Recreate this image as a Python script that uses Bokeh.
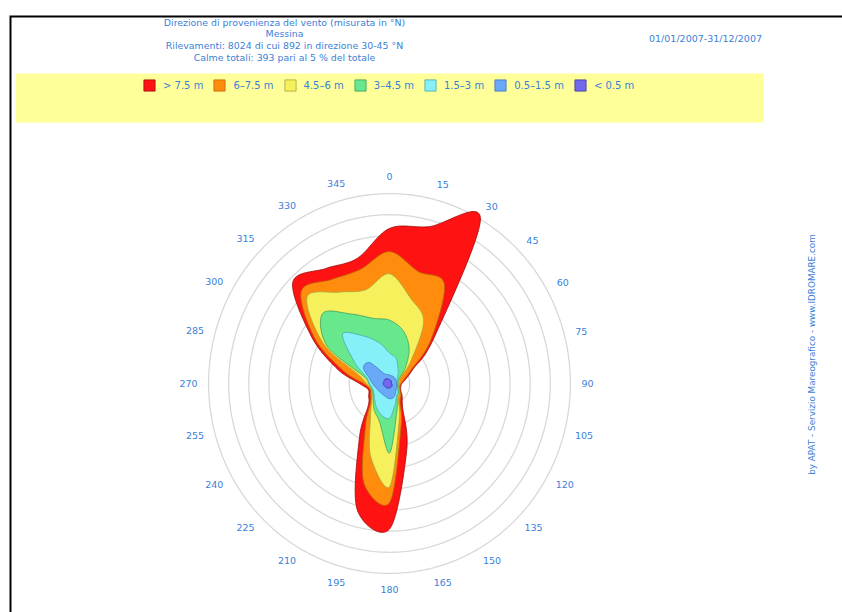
import numpy as np
from bokeh.plotting import figure
from bokeh.models import Range1d, Legend, LegendItem
from bokeh.core.properties import value
from bokeh.embed import file_html
from bokeh.resources import INLINE

# ---------------------------------------------------------------- data
DIRECTIONS = list(range(0, 360, 15))          # degrees from North, clockwise
TICK_LABELS = [str(d) for d in DIRECTIONS]

CLASSES = ["> 7.5 m", "6–7.5 m", "4.5–6 m", "3–4.5 m", "1.5–3 m", "0.5–1.5 m", "< 0.5 m"]

# cumulative radial extent per direction, in grid-ring units (outermost class first)
over_7_5 = [7.35, 7.70, 9.05, 3.20, 1.35, 0.85, 0.62, 0.58, 0.65, 0.90, 1.30, 3.30,
            6.90, 6.20, 3.00, 1.50, 1.20, 1.10, 1.50, 2.70, 4.50, 6.80, 6.30, 6.15]
upto_7_5 = [6.25, 5.50, 5.45, 2.90, 1.20, 0.75, 0.58, 0.53, 0.60, 0.80, 1.05, 2.20,
            5.65, 4.90, 2.40, 1.35, 1.08, 1.00, 1.30, 2.40, 4.30, 6.20, 5.70, 5.60]
upto_6_0 = [5.20, 4.15, 3.40, 1.50, 0.65, 0.52, 0.48, 0.48, 0.55, 0.70, 0.85, 1.85,
            4.90, 3.60, 1.90, 1.25, 1.00, 0.95, 1.15, 1.60, 3.80, 5.80, 5.00, 4.60]
upto_4_5 = [3.00, 2.60, 1.95, 1.15, 0.60, 0.46, 0.43, 0.45, 0.50, 0.65, 0.75, 1.40,
            3.30, 1.90, 1.50, 1.15, 0.95, 0.92, 1.05, 1.35, 3.60, 4.70, 3.80, 3.20]
upto_3_0 = [1.45, 1.25, 0.85, 0.60, 0.45, 0.40, 0.38, 0.40, 0.45, 0.60, 0.70, 1.05,
            1.65, 1.55, 1.30, 1.05, 0.90, 0.88, 1.00, 1.20, 2.00, 3.30, 2.60, 2.00]
upto_1_5 = [0.40, 0.38, 0.38, 0.37, 0.36, 0.36, 0.36, 0.38, 0.40, 0.45, 0.58, 0.70,
            0.72, 0.66, 0.62, 0.62, 0.65, 0.72, 0.85, 1.05, 1.50, 1.40, 0.55, 0.45]
upto_0_5 = [0.19, 0.17, 0.15, 0.13, 0.11, 0.10, 0.10, 0.12, 0.15, 0.17, 0.19, 0.20,
            0.20, 0.22, 0.24, 0.25, 0.27, 0.30, 0.31, 0.30, 0.30, 0.30, 0.25, 0.22]

SERIES = [over_7_5, upto_7_5, upto_6_0, upto_4_5, upto_3_0, upto_1_5, upto_0_5]

TITLE_LINES = [
    "Direzione di provenienza del vento (misurata in °N)",
    "Messina",
    "Rilevamenti: 8024 di cui 892 in direzione 30-45 °N",
    "Calme totali: 393 pari al 5 % del totale",
]
PERIOD = "01/01/2007-31/12/2007"
CREDIT = "by APAT - Servizio Mareografico - www.IDROMARE.com"
N_RINGS = 9

# ---------------------------------------------------------------- styles
FILL = ["#ff1212", "#ff8c0c", "#f5f05c", "#68e88c", "#86f0f8", "#6aa8f8", "#7468ee"]
EDGE = ["#a00c0c", "#b86808", "#a8a43c", "#3e9c5e", "#4aa4b0", "#3f72c0", "#40389c"]
BLUE = "#3a7fd8"
FONT = value("DejaVu Sans")

W, H = 842, 612
CX, CY = 389, 383          # page position of the rose centre
SX, SY = 20.1, 21.1        # page pixels per grid ring (x, y)


def X(px):
    return (px - CX) / SX


def Y(py):
    return (CY - py) / SY


def smooth_closed(radii, samples=20):
    """Closed Catmull-Rom curve through the polar points."""
    th = np.deg2rad(DIRECTIONS)
    r = np.asarray(radii, dtype=float)
    pts = np.column_stack([r * np.sin(th), r * np.cos(th)])
    n = len(pts)
    t = np.linspace(0, 1, samples, endpoint=False)[:, None]
    out = []
    for i in range(n):
        p0, p1, p2, p3 = pts[i - 1], pts[i], pts[(i + 1) % n], pts[(i + 2) % n]
        seg = 0.5 * (2 * p1 + (-p0 + p2) * t
                     + (2 * p0 - 5 * p1 + 4 * p2 - p3) * t ** 2
                     + (-p0 + 3 * p1 - 3 * p2 + p3) * t ** 3)
        out.append(seg)
    curve = np.vstack(out)
    return curve[:, 0], curve[:, 1]


p = figure(width=W, height=H,
           x_range=Range1d(X(0), X(W)), y_range=Range1d(Y(H), Y(0)),
           x_axis_type=None, y_axis_type=None,
           output_backend="svg", toolbar_location=None,
           min_border=0, outline_line_color=None,
           background_fill_color="white", border_fill_color="white")
p.grid.visible = False

# frame lines
p.line([X(10), X(10), X(W)], [Y(H), Y(16), Y(16)],
       line_color="black", line_width=2, line_join="miter")

# legend band
p.quad(left=X(15), right=X(763), top=Y(73), bottom=Y(122),
       fill_color="#ffff99", line_color=None)

# concentric grid rings
ang = np.linspace(0, 2 * np.pi, 361)
for k in range(1, N_RINGS + 1):
    p.line(k * np.sin(ang), k * np.cos(ang), line_color="#d8d8d8", line_width=1.3)

# stacked rose, outermost class first
renderers = []
for radii, fc, ec in zip(SERIES, FILL, EDGE):
    xs, ys = smooth_closed(radii)
    r = p.patch(xs, ys, fill_color=fc, line_color=ec, line_width=0.8)
    renderers.append(r)

# direction labels on an ellipse whose width grows with the label length
th = np.deg2rad(DIRECTIONS)
a = 192.0 + 3.0 * np.array([len(s) for s in TICK_LABELS])   # horizontal semi-axis, px
b = 206.5                                                   # vertical semi-axis, px
rad = 1.0 / np.sqrt((np.sin(th) / a) ** 2 + (np.cos(th) / b) ** 2)
p.text(x=list(rad * np.sin(th) / SX),
       y=list(rad * np.cos(th) / SY + 0.5 / SY),
       text=TICK_LABELS,
       text_font=FONT, text_font_size="9.5px", text_color=BLUE,
       text_align="center", text_baseline="middle")

# heading
p.text(x=[X(284)] * 4, y=[Y(21.5), Y(33), Y(44.5), Y(56.5)], text=TITLE_LINES,
       text_font=FONT, text_font_size="9.4px", text_color=BLUE,
       text_align="center", text_baseline="middle")
p.text(x=[X(705)], y=[Y(38)], text=[PERIOD],
       text_font=FONT, text_font_size="9.5px", text_color=BLUE,
       text_align="center", text_baseline="middle")
p.text(x=[X(811)], y=[Y(354)], text=[CREDIT], angle=np.pi / 2,
       text_font=FONT, text_font_size="8.8px", text_color=BLUE,
       text_align="center", text_baseline="middle")

legend = Legend(items=[LegendItem(label=lab, renderers=[r])
                       for lab, r in zip(CLASSES, renderers)],
                orientation="horizontal", location=(142, H - 92),
                glyph_width=14, glyph_height=14, label_height=14,
                label_standoff=7, spacing=9, padding=0, margin=0,
                background_fill_alpha=0, border_line_color=None,
                label_text_font="DejaVu Sans", label_text_font_size="10px",
                label_text_color=BLUE)
p.add_layout(legend)

open("out.html", "w").write(file_html(p, INLINE))
